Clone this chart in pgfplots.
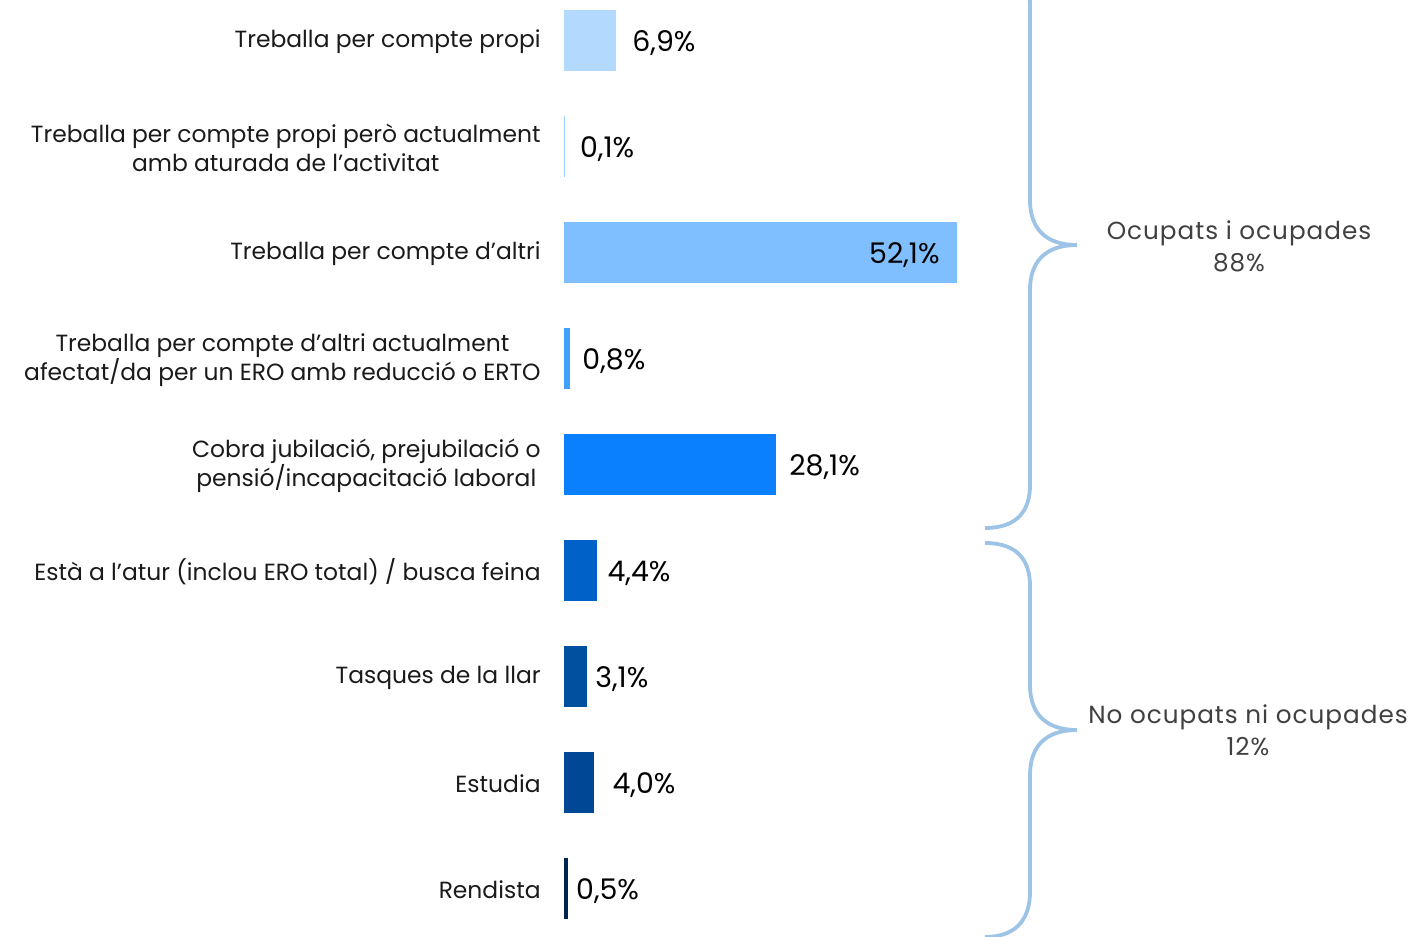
\documentclass[border=0pt]{standalone}
\usepackage{pgfplots}
\pgfplotsset{compat=1.18}
\usepackage{fontspec}
\setmainfont{Poppins}
\newfontfamily\bracefont[LetterSpace=4]{Poppins}
\definecolor{c1}{HTML}{B3D9FF}
\definecolor{c2}{HTML}{9FCFFF}
\definecolor{c3}{HTML}{80BFFF}
\definecolor{c4}{HTML}{40A0FF}
\definecolor{c5}{HTML}{0A80FF}
\definecolor{c6}{HTML}{0062C8}
\definecolor{c7}{HTML}{0050A0}
\definecolor{c8}{HTML}{004896}
\definecolor{c9}{HTML}{00244F}
\definecolor{bracec}{HTML}{9DC3E6}
\definecolor{txt}{HTML}{1A1A1A}
\definecolor{gtxt}{HTML}{404040}
\pgfplotsset{
  lbl/.style 2 args={
    nodes near coords={\pgfmathprintnumber[fixed,fixed zerofill,precision=1,use comma,assume math mode=true]{\pgfplotspointmeta}\%},
    every node near coord/.append style={anchor=#1, xshift=#2, yshift=-1.5pt, inner sep=0pt,
      font=\fontsize{14.2}{16}\selectfont, text=black}},
}
\begin{document}
\begin{tikzpicture}
\path[use as bounding box] (0,0) rectangle (707.5pt,-468.5pt);
\begin{axis}[at={(282pt,6.5pt)}, anchor=north west,
  scale only axis, width=196.5pt, height=477pt,
  xmin=0, xmax=52.1, ymin=-0.5, ymax=8.5, y dir=reverse,
  xbar, bar width=30.5pt, bar shift=0pt,
  axis line style={draw=none}, xtick=\empty,
  ytick={0,...,8}, major tick length=0pt,
  yticklabels={Treballa per compte propi,
    {Treballa per compte propi però actualment\\amb aturada de l’activitat},
    Treballa per compte d’altri,
    {Treballa per compte d’altri actualment\\afectat/da per un ERO amb reducció o ERTO},
    {Cobra jubilació, prejubilació o\\pensió/incapacitació laboral},
    Està a l’atur (inclou ERO total) / busca feina,
    Tasques de la llar, Estudia, Rendista},
  yticklabel style={align=center, inner sep=0pt, xshift=-11.5pt, yshift=-1pt, text=txt,
    font=\fontsize{11.7}{14.5}\selectfont},
  clip=false,
]
\addplot[fill=c1, draw=none, lbl={west}{8pt}] coordinates {(6.9,0)};
\addplot[fill=c2, draw=none, lbl={west}{7.5pt}] coordinates {(0.1,1)};
\addplot[fill=c3, draw=none, lbl={east}{-8.5pt}] coordinates {(52.1,2)};
\addplot[fill=c4, draw=none, lbl={west}{6pt}] coordinates {(0.8,3)};
\addplot[fill=c5, draw=none, lbl={west}{6.5pt}] coordinates {(28.1,4)};
\addplot[fill=c6, draw=none, lbl={west}{5pt}] coordinates {(4.4,5)};
\addplot[fill=c7, draw=none, lbl={west}{3.8pt}] coordinates {(3.1,6)};
\addplot[fill=c8, draw=none, lbl={west}{9pt}] coordinates {(4.0,7)};
\addplot[fill=c9, draw=none, lbl={west}{4pt}] coordinates {(0.5,8)};
\end{axis}
\begin{scope}[x=0.5pt, y=-0.5pt, line width=1.9pt, draw=bracec]
\draw (985,-38) .. controls (1018,-38) and (1030,-20) .. (1030,5)
  -- (1030,200) .. controls (1030,228) and (1045,245) .. (1077,245)
  .. controls (1045,245) and (1030,262) .. (1030,290)
  -- (1030,485) .. controls (1030,510) and (1018,528) .. (985,528);
\draw (985,543) .. controls (1018,543) and (1030,561) .. (1030,586)
  -- (1030,685) .. controls (1030,713) and (1045,730) .. (1077,730)
  .. controls (1045,730) and (1030,747) .. (1030,775)
  -- (1030,892) .. controls (1030,917) and (1018,937) .. (985,937);
\node[align=center, text=gtxt, font=\bracefont\fontsize{12.35}{16}\selectfont] at (1239,246) {Ocupats i ocupades\\88\%};
\node[align=center, text=gtxt, font=\bracefont\fontsize{12.35}{16}\selectfont] at (1248,730) {No ocupats ni ocupades\\12\%};
\end{scope}
\end{tikzpicture}
\end{document}
